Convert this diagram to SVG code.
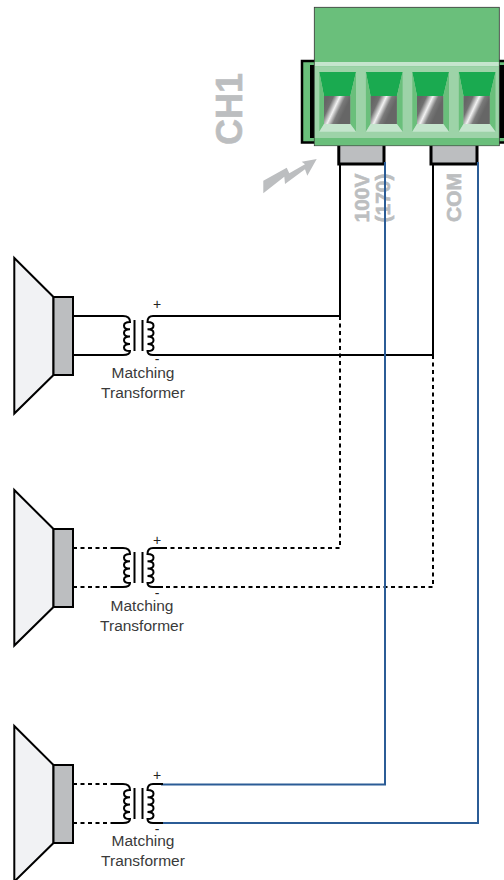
<svg xmlns="http://www.w3.org/2000/svg" xmlns:xlink="http://www.w3.org/1999/xlink" width="504" height="880" viewBox="0 0 504 880">
<style>
text{font-family:"Liberation Sans",Arial,sans-serif}
.cap{font-size:15.5px;fill:#3a3a3a;text-anchor:middle}
.sign{font-size:14px;fill:#222;text-anchor:middle}
.lbl{font-weight:bold;fill:#bcbec0;stroke:#bcbec0;stroke-width:0.6}
.w{fill:none;stroke:#000;stroke-width:2}
.d{fill:none;stroke:#000;stroke-width:2;stroke-dasharray:4 3.5}
.b{fill:none;stroke:#2b5c96;stroke-width:2}
.cone{fill:#f1f2f4;stroke:#000;stroke-width:2;stroke-linejoin:miter}
.mag{fill:#bcbec0;stroke:#000;stroke-width:2}
.coil{fill:none;stroke:#000;stroke-width:2}
.blk{fill:#bcbec0;stroke:#000;stroke-width:3}
</style>
<defs>
<linearGradient id="steel" x1="0.1" y1="0.15" x2="0.8" y2="0.5">
<stop offset="0" stop-color="#666"/><stop offset="0.22" stop-color="#707070"/><stop offset="0.5" stop-color="#f2f2f2"/><stop offset="0.75" stop-color="#7a7a7a"/><stop offset="1" stop-color="#666"/>
</linearGradient>
<g id="cell">
<polygon points="319.3,72 356,72 350.3,96 324,96" fill="#1aaa50"/>
<polygon points="319.3,72 324,96 324,124 319.3,131.7" fill="#6abf7b"/>
<polygon points="356,72 350.3,96 350.3,124 356,131.7" fill="#6abf7b"/>
<rect x="324" y="96" width="26.3" height="28" fill="url(#steel)"/>
<polygon points="324,124 350.3,124 356,131.7 319.3,131.7" fill="#c5e5cd"/>
</g>
<g id="spk">
<polygon class="cone" points="14.3,258 53.5,297 53.5,375 14.3,413.5"/>
<rect class="mag" x="53.5" y="297" width="19.5" height="78"/>
</g>
<g id="xf">
<path class="coil" d="M112,316H123C128,316 130,318 130,322C122,322 122,329.3 130,329.3C122,329.3 122,336.6 130,336.6C122,336.6 122,343.9 130,343.9C122,343.9 122,351 130,351C130,353.5 128,355 123,355H112"/>
<path class="coil" d="M134.5,320V351M142.5,320V351"/>
<path class="coil" d="M163,316H153C149,316 147.5,318 147.5,322C155.5,322 155.5,329.3 147.5,329.3C155.5,329.3 155.5,336.6 147.5,336.6C155.5,336.6 155.5,343.9 147.5,343.9C155.5,343.9 155.5,351 147.5,351C147.5,353.5 149,355 153,355H163"/>
</g>
</defs>

<g id="pin-100v"><rect class="blk" x="338.8" y="138" width="45.2" height="26"/></g>
<g id="pin-com"><rect class="blk" x="431" y="138" width="46" height="26"/></g>

<g id="terminal-block">
<rect x="302" y="61" width="204" height="81.5" fill="#6abf7b" stroke="#000" stroke-width="2.5"/>
<rect x="310" y="65" width="196" height="73" fill="#000"/>
<rect x="314.3" y="7.3" width="185" height="138.4" fill="#6abf7b" stroke="#333" stroke-width="0.8"/>
<rect x="314.8" y="62" width="184" height="4.2" fill="#c5e5cd"/>
<rect x="314.8" y="66.2" width="184" height="71.8" fill="#9dd3a8"/>
<rect x="314.8" y="138" width="184" height="7.3" fill="#6abf7b"/>
<use xlink:href="#cell" href="#cell"/>
<use xlink:href="#cell" href="#cell" x="46.6"/>
<use xlink:href="#cell" href="#cell" x="93"/>
<use xlink:href="#cell" href="#cell" x="139.5"/>
</g>

<g id="labels">
<text class="lbl" font-size="36" transform="translate(242,145) rotate(-90)">CH1</text>
<text class="lbl" font-size="21" transform="translate(368.5,222.5) rotate(-90)">100V</text>
<text class="lbl" font-size="21" transform="translate(389.5,222.5) rotate(-90)">(170)</text>
<text class="lbl" font-size="21" transform="translate(461,222) rotate(-90)">COM</text>
<polygon points="316.7,159 307.3,175.7 305,169.3 285,184 284.3,176.7 263.3,193.3 263.3,180.7 286.7,167.7 289.3,173.3 305,164.3 301.7,161.7" fill="#bcbec0"/>
</g>

<g id="connectors">
<path class="w" d="M340,164V316H163M433,164V355H163"/>
<path class="d" d="M340,316V548H163M433,355V587H163"/>
<path class="b" d="M385,162V784.5H161M478,162V823H161"/>
<path class="w" d="M73,316H112M73,355H112"/>
<path class="d" d="M73,548H112M73,587H112M73,784H112M73,823H112"/>
</g>

<g id="speaker-1"><use xlink:href="#spk" href="#spk"/></g>
<g id="speaker-2"><use xlink:href="#spk" href="#spk" y="232"/></g>
<g id="speaker-3"><use xlink:href="#spk" href="#spk" y="468"/></g>

<g id="transformer-1">
<use xlink:href="#xf" href="#xf"/>
<text class="sign" x="157" y="309">+</text><text class="sign" x="157" y="364">-</text>
<text class="cap" x="143" y="378">Matching</text><text class="cap" x="143" y="398">Transformer</text>
</g>
<g id="transformer-2">
<use xlink:href="#xf" href="#xf" y="232"/>
<text class="sign" x="157" y="545">+</text><text class="sign" x="157" y="598">-</text>
<text class="cap" x="142" y="611">Matching</text><text class="cap" x="142" y="631">Transformer</text>
</g>
<g id="transformer-3">
<use xlink:href="#xf" href="#xf" y="468"/>
<text class="sign" x="157" y="780">+</text><text class="sign" x="157" y="834">-</text>
<text class="cap" x="143" y="846">Matching</text><text class="cap" x="143" y="866">Transformer</text>
</g>
</svg>
